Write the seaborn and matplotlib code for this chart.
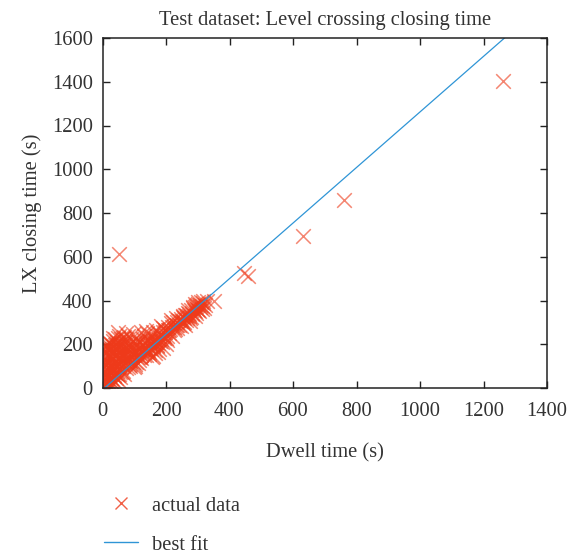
import numpy as np
import seaborn as sns
import matplotlib.pyplot as plt
from matplotlib.lines import Line2D

# dense cluster of test samples (dwell time, LX closing time)
cluster_dwell = [
    2, 3, 4, 5, 5, 6, 7, 8, 8, 9, 10, 10, 11, 12, 12, 13, 14, 15, 15, 16, 17, 18, 18, 19, 20, 20,
    22, 23, 24, 25, 26, 27, 28, 29, 30, 31, 32, 33, 34, 35, 36, 37, 38, 39, 40, 40, 22, 26, 30, 34, 38,
    42, 43, 44, 45, 46, 47, 48, 49, 50, 51, 52, 53, 54, 55, 56, 57, 58, 59, 60, 60, 44, 48, 52, 56, 50,
    62, 64, 66, 68, 70, 72, 74, 76, 78, 80, 82, 84, 86, 88, 90, 63, 67, 71, 75, 79, 83, 87, 65, 73, 81,
    92, 95, 98, 100, 102, 105, 108, 110, 112, 115, 118, 120, 122, 125, 128, 130, 96, 104, 114, 124, 100, 110, 120, 130, 106,
    132, 135, 138, 140, 143, 146, 150, 153, 156, 160, 163, 166, 170, 173, 176, 180, 137, 148, 158, 168, 178, 145, 155, 165, 175,
    182, 186, 190, 194, 198, 202, 206, 210, 214, 218, 222, 226, 230, 234, 238, 185, 195, 205, 215, 225, 235, 160, 175, 190, 200,
    242, 246, 250, 254, 258, 262, 266, 270, 274, 278, 282, 286, 290, 294, 298, 248, 256, 264, 272, 280, 288, 296, 260, 276, 292,
    302, 306, 310, 314, 318, 322, 305, 312, 320, 290, 300, 330, 350, 232, 215,
    1, 2, 4, 6, 7, 9, 11, 13, 14, 16, 17, 19, 3, 10, 15, 6, 12, 18,
    21, 24, 27, 29, 32, 35, 37, 41, 43, 46, 49, 53, 55, 58, 59, 28, 36, 45, 54, 33,
    61, 66, 69, 73, 77, 82, 85, 89, 93, 97, 101, 107, 111, 116, 121, 126, 129, 69, 88, 103, 117,
    134, 139, 144, 149, 154, 159, 164, 169, 174, 179, 184, 189, 196, 203, 211, 219, 227, 236, 141, 171, 199,
    244, 252, 259, 267, 275, 283, 291, 299, 307, 316, 253, 269, 285, 301,
]
cluster_closing = [
    5, 25, 50, 15, 80, 110, 40, 140, 170, 60, 100, 190, 20, 130, 160, 75, 200, 45, 185, 115, 150, 30, 175, 90, 60, 205,
    120, 180, 30, 150, 70, 200, 105, 170, 40, 135, 215, 85, 190, 55, 160, 115, 225, 70, 145, 195, 60, 95, 180, 25, 100,
    175, 45, 125, 210, 80, 155, 230, 60, 190, 110, 140, 240, 90, 170, 50, 205, 120, 225, 150, 75, 100, 35, 65, 135, 255,
    195, 100, 230, 65, 160, 210, 90, 185, 130, 240, 105, 175, 200, 125, 155, 140, 180, 120, 225, 95, 150, 110, 80, 250, 195,
    180, 120, 205, 150, 100, 230, 140, 190, 115, 210, 160, 255, 135, 180, 225, 150, 245, 170, 130, 200, 95, 215, 170, 240, 120,
    175, 205, 150, 250, 190, 165, 230, 180, 140, 255, 205, 175, 225, 195, 250, 215, 260, 155, 190, 265, 180, 215, 240, 160, 205,
    245, 210, 275, 230, 255, 220, 280, 250, 270, 240, 300, 265, 290, 275, 310, 285, 240, 265, 295, 280, 300, 145, 165, 185, 200,
    290, 315, 305, 325, 300, 335, 320, 345, 330, 355, 340, 365, 350, 375, 360, 285, 320, 310, 340, 325, 355, 345, 290, 305, 330,
    385, 370, 395, 375, 390, 380, 350, 360, 365, 385, 395, 400, 400, 320, 310,
    15, 70, 130, 160, 195, 30, 85, 55, 120, 10, 95, 140, 100, 65, 25, 35, 110, 180,
    90, 205, 45, 140, 160, 120, 60, 95, 200, 145, 115, 200, 75, 180, 95, 15, 30, 65, 160, 230,
    115, 140, 195, 170, 140, 190, 130, 225, 145, 160, 190, 165, 145, 185, 150, 200, 175, 235, 100, 110, 140,
    185, 215, 175, 200, 210, 195, 220, 210, 225, 240, 225, 255, 265, 240, 265, 280, 270, 290, 165, 190, 230,
    305, 295, 335, 330, 320, 345, 370, 380, 380, 400, 330, 355, 370, 355,
]

# isolated points
outlier_dwell = [52, 445, 458, 632, 760, 1262]
outlier_closing = [612, 525, 510, 695, 860, 1402]

# best fit line
fit_slope = 1.27
fit_intercept = -8

dwell = np.array(cluster_dwell + outlier_dwell)
closing = np.array(cluster_closing + outlier_closing)

sns.set_style('ticks')
plt.rcParams['font.family'] = ['Liberation Serif', 'DejaVu Serif']
fs = 14.8
plt.rcParams['font.size'] = fs

red = '#EE3A1A'
blue = '#2F95D6'
ink = '#333333'

fig = plt.figure(figsize=(5.81, 5.55), dpi=100)
ax = fig.add_axes([102.5 / 581, 1 - 388 / 555, 444.5 / 581, 350 / 555])

sns.scatterplot(x=dwell, y=closing, marker='x', s=110, color=red, alpha=0.62,
                linewidth=1.1, ax=ax, legend=False)
fit_x = np.array([0, 1400])
sns.lineplot(x=fit_x, y=fit_slope * fit_x + fit_intercept, color=blue, linewidth=0.9, ax=ax)

ax.set_xlim(0, 1400)
ax.set_ylim(0, 1600)
ax.set_xticks(np.arange(0, 1401, 200))
ax.set_yticks(np.arange(0, 1601, 200))
ax.tick_params(direction='in', length=5, width=1, colors='#222222', labelcolor=ink,
               top=True, right=True, labelsize=fs)
ax.tick_params(axis='x', pad=10)
ax.tick_params(axis='y', pad=7)
for s in ax.spines.values():
    s.set_linewidth(1.1)
    s.set_color('#222222')
    s.set_visible(True)

ax.set_title('Test dataset: Level crossing closing time', fontsize=fs, color=ink, pad=9)
ax.set_xlabel('Dwell time (s)', fontsize=fs, color=ink, labelpad=16)
ax.set_ylabel('LX closing time (s)', fontsize=fs, color=ink, labelpad=7)

handles = [
    Line2D([], [], linestyle='none', marker='x', markersize=8, markeredgewidth=1.0,
           color=red, alpha=0.8),
    Line2D([], [], color=blue, linewidth=1.0),
]
fig.legend(handles, ['actual data', 'best fit'], loc='upper left',
           bbox_to_anchor=(94 / 581, 1 - 486 / 555), frameon=False, borderpad=0,
           handlelength=1.66, handletextpad=0.68, labelspacing=0.95, fontsize=fs,
           labelcolor=ink)

fig.savefig('out.png', dpi=100)
